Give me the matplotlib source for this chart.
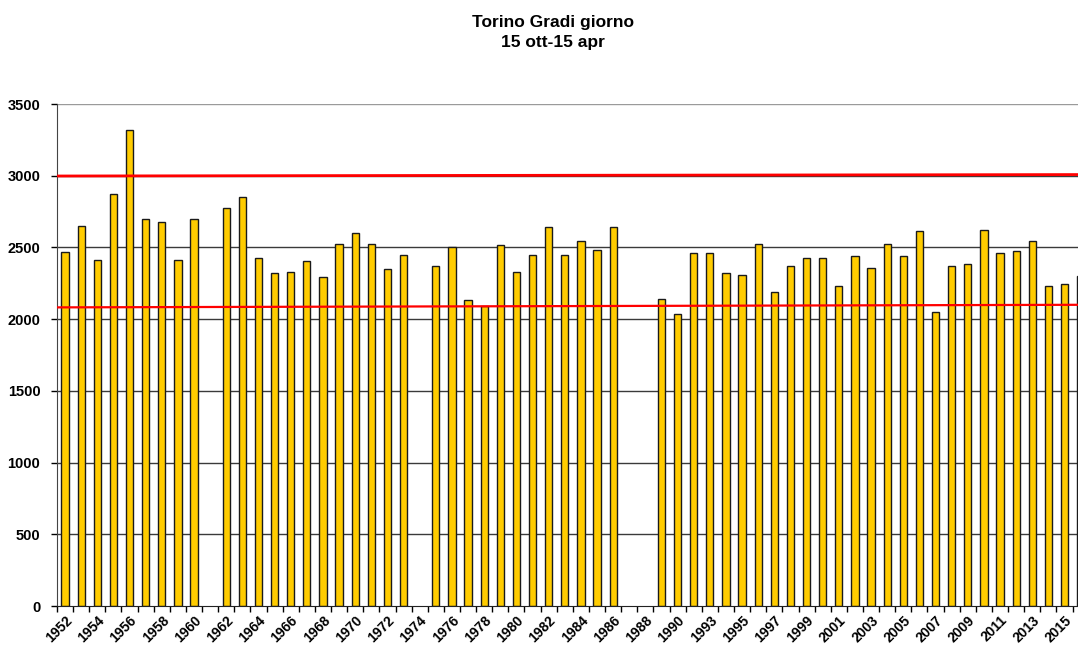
import numpy as np
import matplotlib.pyplot as plt

# Torino, gradi giorno 15 ott - 15 apr (nan = anno senza dato)
anni = [1952, 1953, 1954, 1955, 1956, 1957, 1958, 1959, 1960, 1961,
        1962, 1963, 1964, 1965, 1966, 1967, 1968, 1969, 1970, 1971,
        1972, 1973, 1974, 1975, 1976, 1977, 1978, 1979, 1980, 1981,
        1982, 1983, 1984, 1985, 1986, 1987, 1988, 1989, 1990, 1991,
        1993, 1994, 1995, 1996, 1997, 1998, 1999, 2000, 2001, 2002,
        2003, 2004, 2005, 2006, 2007, 2008, 2009, 2010, 2011, 2012,
        2013, 2014, 2015, 2016]
gradi_giorno = [2467, 2651, 2412, 2874, 3319, 2698, 2677, 2409, 2698, np.nan,
                2777, 2851, 2426, 2319, 2328, 2405, 2295, 2523, 2600, 2523,
                2349, 2449, np.nan, 2372, 2502, 2130, 2095, 2514, 2326, 2449,
                2640, 2449, 2547, 2481, 2644, np.nan, np.nan, 2142, 2033, 2460,
                2460, 2319, 2307, 2523, 2188, 2372, 2426, 2426, 2230, 2440,
                2360, 2523, 2440, 2612, 2047, 2372, 2384, 2621, 2460, 2477,
                2547, 2230, 2247, 2298]
# linee rosse di riferimento (valore a inizio e fine serie)
linea_alta = [2998, 3008]
linea_bassa = [2082, 2100]

plt.rcParams['font.family'] = ['Liberation Sans', 'DejaVu Sans']

fig = plt.figure(figsize=(10.78, 6.46), dpi=100)
ax = fig.add_axes([57 / 1078, 40 / 646, 1021 / 1078, 502 / 646])

x = np.arange(len(anni))
xmin, xmax = -0.5, -0.5 + 1021 / 16.12

for y in range(500, 3500, 500):
    ax.axhline(y, color='#3a3a3a', lw=1.0, zorder=1)
ax.axhline(3500, color='#9a9a9a', lw=1.0, zorder=1)

ax.bar(x, gradi_giorno, width=0.45, color='#ffcc00', edgecolor='#1a1a1a',
       linewidth=1.0, zorder=2)

ax.plot([xmin, xmax], linea_alta, color='red', lw=2.0, zorder=3)
ax.plot([xmin, xmax], linea_bassa, color='red', lw=1.6, zorder=3)

ax.set_yticks(range(0, 3501, 500))
ax.tick_params(axis='y', length=4, width=1, pad=8, labelsize=10.5)
for lab in ax.get_yticklabels():
    lab.set_fontweight('bold')

# tacche tra le categorie, etichette ogni due anni
ax.set_xticks(np.arange(len(anni) + 1) - 0.5)
ax.set_xticklabels([])
ax.set_xticks(x[::2], minor=True)
ax.set_xticklabels([str(a) for a in anni[::2]], minor=True, rotation=45,
                   ha='right', va='top', rotation_mode='anchor',
                   fontsize=10, fontweight='bold')
ax.tick_params(axis='x', which='major', length=4, width=1)
ax.tick_params(axis='x', which='minor', length=0, pad=5)

# limiti dopo i tick, altrimenti set_xticks allarga la vista
ax.set_xlim(xmin, xmax)
ax.set_ylim(0, 3500)

for s in ['top', 'right']:
    ax.spines[s].set_visible(False)
ax.spines['left'].set_color('#444444')
ax.spines['bottom'].set_color('#222222')

fig.text(553 / 1078, 1 - 22 / 646, 'Torino Gradi giorno', ha='center',
         va='center', fontsize=12.5, fontweight='bold')
fig.text(553 / 1078, 1 - 42 / 646, '15 ott-15 apr', ha='center',
         va='center', fontsize=12.5, fontweight='bold')

fig.savefig('out.png', dpi=100, facecolor='white')
